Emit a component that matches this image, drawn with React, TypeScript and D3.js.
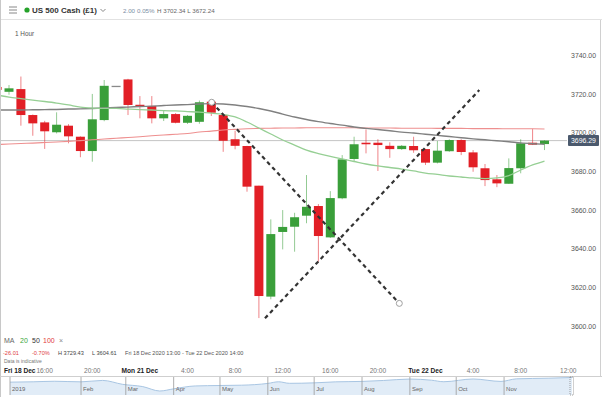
import React from "react";
import * as d3 from "d3";

const W = 602;
const H = 397;
const FONT = "'Liberation Sans', Arial, sans-serif";

// hourly candles, first one is index -1 (cut by the left edge)
const candleStart = -1;
const opens = [3724, 3721.5, 3722.9, 3709.5, 3705.7, 3700.6, 3704, 3698.3, 3690.9, 3706.9, 3724.6, 3727.9, 3714.8, 3714.2, 3707.8, 3710, 3705.5, 3706, 3716.4, 3709.5, 3697, 3693.5, 3673, 3615.7, 3649.1, 3651.8, 3657.5, 3662.5, 3646.3, 3666.5, 3686.8, 3695.2, 3695.2, 3693.6, 3691.9, 3693.5, 3691.9, 3684.9, 3690.8, 3696.6, 3690.2, 3682, 3676.3, 3674, 3682, 3695.2, 3694.5];
const highs = [3725.5, 3725, 3729.4, 3709.8, 3706.5, 3710.9, 3704.8, 3698.5, 3720.4, 3727.6, 3724.6, 3728.2, 3719.3, 3719.3, 3711.6, 3710.5, 3709.5, 3717, 3717, 3710, 3701.4, 3693.6, 3673, 3655.6, 3660.4, 3659, 3678.5, 3663.5, 3670.2, 3688.8, 3698.3, 3702.1, 3697, 3695.4, 3694, 3698.3, 3692, 3696.1, 3697, 3697, 3691.4, 3684.2, 3678.5, 3687.1, 3697, 3702.34, 3696.5];
const lows = [3721, 3720, 3704, 3698.8, 3692, 3700, 3694.9, 3687.7, 3685.4, 3706.3, 3724.6, 3709.5, 3707.8, 3705.2, 3706.4, 3705.2, 3704.9, 3705, 3709, 3690.5, 3691.8, 3669.9, 3604.61, 3614.3, 3640.1, 3638.9, 3653.6, 3633.7, 3646, 3666, 3685.4, 3689.7, 3680.6, 3687.4, 3691.5, 3690, 3683.7, 3684.5, 3690.5, 3688.8, 3680.2, 3672.8, 3672.24, 3674, 3679.4, 3694, 3691.4];
const closes = [3722.5, 3723.3, 3709.5, 3705.2, 3701.1, 3704.5, 3698.5, 3690.9, 3707.3, 3724.6, 3724.6, 3714.7, 3714, 3707.8, 3710, 3705.5, 3709.1, 3716.1, 3710.7, 3696.2, 3693.6, 3672.5, 3616, 3648, 3651.7, 3656.7, 3662.1, 3647, 3666.6, 3686.6, 3694.4, 3694.4, 3694, 3691.9, 3693.6, 3691.3, 3684.9, 3691.1, 3696.6, 3690.4, 3682.5, 3675.9, 3674.2, 3682.1, 3694.9, 3694.2, 3696.29];

// moving averages, same indices as the candles
const ma20 = [3719.8, 3718.8, 3718.0, 3717.2, 3716.5, 3715.7, 3714.7, 3713.6, 3713.1, 3712.9, 3712.9, 3712.6, 3712.3, 3712.1, 3711.8, 3711.6, 3711.3, 3711.0, 3710.5, 3709.8, 3708.5, 3705.9, 3702.8, 3699.7, 3696.6, 3694.0, 3691.4, 3689.6, 3688.1, 3686.8, 3685.5, 3684.2, 3683.2, 3682.4, 3681.6, 3680.6, 3679.5, 3678.8, 3678.0, 3677.5, 3677.0, 3676.7, 3677.0, 3678.2, 3681.1, 3683.7, 3685.7];
const ma50 = [3712.1, 3712.1, 3712.1, 3712.2, 3712.3, 3712.4, 3712.6, 3712.7, 3712.9, 3713.1, 3713.4, 3713.6, 3713.9, 3714.1, 3714.4, 3714.7, 3714.9, 3715.2, 3715.4, 3715.2, 3714.7, 3713.9, 3712.9, 3711.6, 3710.0, 3708.5, 3707.2, 3706.1, 3705.1, 3704.3, 3703.3, 3702.6, 3702.0, 3701.4, 3700.7, 3700.2, 3699.6, 3699.0, 3698.4, 3697.8, 3697.2, 3696.7, 3696.2, 3695.7, 3695.1, 3694.7, 3694.4];
const ma100 = [3694.3, 3694.5, 3694.8, 3695.0, 3695.3, 3695.6, 3695.9, 3696.3, 3696.7, 3697.1, 3697.5, 3697.9, 3698.3, 3698.8, 3699.2, 3699.6, 3700.0, 3700.7, 3701.2, 3701.8, 3702.1, 3702.4, 3702.6, 3702.7, 3702.8, 3702.8, 3702.9, 3702.9, 3702.9, 3702.9, 3702.9, 3702.8, 3702.8, 3702.8, 3702.7, 3702.7, 3702.7, 3702.6, 3702.6, 3702.6, 3702.5, 3702.5, 3702.5, 3702.4, 3702.4, 3702.4, 3702.3];

const lastPrice = 3696.29;
const priceTicks = [3600, 3620, 3640, 3660, 3680, 3700, 3720, 3740];

const timeIdx = [3, 7, 11, 15, 19, 23, 27, 31, 35, 39, 43, 47];
const timeText = ["16:00", "20:00", "Mon 21 Dec", "4:00", "8:00", "12:00", "16:00", "20:00", "Tue 22 Dec", "4:00", "8:00", "12:00"];

// hand drawn trend lines: [index, price]
const trendFrom = [[17.03, 3716.1], [21.51, 3604.5]];
const trendTo = [[32.8, 3612.2], [39.52, 3722.4]];
const trendHandles = [true, false];

// navigator overview
const navDates = ["2019-12-17", "2020-01-01", "2020-01-15", "2020-02-01", "2020-02-15", "2020-02-28", "2020-03-12", "2020-03-23", "2020-04-01", "2020-04-15", "2020-05-01", "2020-05-15", "2020-06-01", "2020-06-08", "2020-06-15", "2020-07-01", "2020-07-15", "2020-08-01", "2020-08-15", "2020-09-01", "2020-09-15", "2020-09-23", "2020-10-12", "2020-10-30", "2020-11-09", "2020-11-30", "2020-12-15"];
const navValues = [3192, 3230, 3289, 3225, 3380, 2954, 2711, 2237, 2470, 2783, 2830, 2863, 3055, 3232, 3066, 3115, 3226, 3271, 3372, 3526, 3401, 3237, 3534, 3270, 3550, 3621, 3694];
const navTickDates = ["2019-12-17", "2020-02-01", "2020-03-01", "2020-04-01", "2020-05-01", "2020-06-01", "2020-07-01", "2020-08-01", "2020-09-01", "2020-10-01", "2020-11-01"];
const navTickText = ["2019", "Feb", "Mar", "Apr", "May", "Jun", "Jul", "Aug", "Sep", "Oct", "Nov"];

const GREEN = "#3a9f3a";
const RED = "#e21f26";

export default function App() {
  const x = d3.scaleLinear().domain([0, 45]).range([9, 544.5]);
  const y = d3.scaleLinear().domain([3600, 3740]).range([327, 56]);
  const idx = opens.map((_, i) => i + candleStart);
  const bw = 9;

  const maLine = (vals: number[]) =>
    d3.line<number>().x((_, i) => x(idx[i])).y((d) => y(d)).curve(d3.curveMonotoneX)(vals) || "";

  const parse = d3.timeParse("%Y-%m-%d");
  const nx = d3.scaleTime().domain([parse("2019-12-17")!, parse("2020-12-15")!]).range([10, 572]);
  const ny = d3.scaleLinear().domain([2237, 3694]).range([391, 377.5]);
  const navArea = d3.area<number>()
    .x((_, i) => nx(parse(navDates[i])!))
    .y0(395)
    .y1((d) => ny(d))
    .curve(d3.curveMonotoneX);
  const navLine = d3.line<number>()
    .x((_, i) => nx(parse(navDates[i])!))
    .y((d) => ny(d))
    .curve(d3.curveMonotoneX);

  const py = y(lastPrice);

  return (
    <svg width={W} height={H} style={{ position: "absolute", left: 0, top: 0, background: "#fff" }} fontFamily={FONT}>
      <defs>
        <clipPath id="plot">
          <rect x={1} y={20} width={566} height={315} />
        </clipPath>
      </defs>
      <rect width={W} height={H} fill="#fff" />

      {/* header */}
      <g>
        {[7, 10, 13].map((yy) => (
          <line key={yy} x1={9} x2={17} y1={yy} y2={yy} stroke="#888" strokeWidth={1} />
        ))}
        <circle cx={27} cy={10} r={2.6} fill="#25a22a" />
        <text x={32} y={13} fontSize={8} fontWeight={600} fill="#333">US 500 Cash (£1)</text>
        <path d="M100.5,9 L103,11.5 L105.5,9" fill="none" stroke="#888" strokeWidth={1} />
        <text x={123} y={12.5} fontSize={6.2} fill="#7d8ea3">2.00</text>
        <text x={137} y={12.5} fontSize={6.2} fill="#7d8ea3">0.05%</text>
        <text x={157} y={12.5} fontSize={6.2} fill="#666">H 3702.34 L 3672.24</text>
        <line x1={0} x2={W} y1={19.5} y2={19.5} stroke="#e2e2e2" />
        <text x={15} y={36} fontSize={6.4} fill="#555">1 Hour</text>
      </g>

      {/* borders */}
      <line x1={0.5} x2={0.5} y1={0} y2={H} stroke="#c8c8c8" />
      <line x1={600.5} x2={600.5} y1={20} y2={376} stroke="#d0d0d0" />

      {/* price axis */}
      {priceTicks.map((t) => (
        <text key={t} x={596} y={y(t)} fontSize={6.9} fill="#555" textAnchor="end" dominantBaseline="middle">
          {t.toFixed(2)}
        </text>
      ))}

      <g clipPath="url(#plot)">
        {/* current price line */}
        <line x1={0} x2={568} y1={py} y2={py} stroke="#c4c4c4" strokeWidth={1} />

        {/* candles */}
        {idx.map((i, k) => {
          const o = opens[k], c = closes[k];
          const col = c > o ? GREEN : c < o ? RED : "#8a8a8a";
          const top = y(Math.max(o, c));
          const h = Math.max(1.3, y(Math.min(o, c)) - top);
          return (
            <g key={i}>
              <line x1={x(i)} x2={x(i)} y1={y(highs[k])} y2={y(lows[k])} stroke={col} strokeOpacity={0.55} strokeWidth={1} />
              <rect x={x(i) - bw / 2} y={top} width={bw} height={h} fill={col} />
            </g>
          );
        })}

        {/* moving averages */}
        <path d={maLine(ma100)} fill="none" stroke="#ee8f8f" strokeWidth={1.1} />
        <path d={maLine(ma50)} fill="none" stroke="#808080" strokeWidth={1.4} />
        <path d={maLine(ma20)} fill="none" stroke="#96cf94" strokeWidth={1.3} />

        {/* trend lines */}
        {trendFrom.map((f, k) => {
          const t = trendTo[k];
          return (
            <g key={k}>
              <line x1={x(f[0])} y1={y(f[1])} x2={x(t[0])} y2={y(t[1])} stroke="#333" strokeWidth={2.2} strokeDasharray="4,3.4" />
              {trendHandles[k] && (
                <>
                  <circle cx={x(f[0])} cy={y(f[1])} r={3} fill="#fff" stroke="#a0a0a0" strokeWidth={1} />
                  <circle cx={x(t[0])} cy={y(t[1])} r={3} fill="#fff" stroke="#a0a0a0" strokeWidth={1} />
                </>
              )}
            </g>
          );
        })}
      </g>

      {/* last price tag */}
      <rect x={568} y={py - 5.5} width={31} height={11} fill="#4b596d" rx={1} />
      <text x={583.5} y={py + 0.3} fontSize={6.9} fill="#fff" textAnchor="middle" dominantBaseline="middle">
        {lastPrice.toFixed(2)}
      </text>

      {/* legend / info rows */}
      <text x={4} y={342.5} fontSize={7} fill="#666">MA</text>
      <text x={20} y={342.5} fontSize={7} fill="#3aa53a">20</text>
      <text x={32} y={342.5} fontSize={7} fill="#333">50</text>
      <text x={43} y={342.5} fontSize={7} fill="#e23a3a">100</text>
      <text x={59} y={342.5} fontSize={7} fill="#888">×</text>

      <text x={3} y={354.5} fontSize={5.6} fill="#e04040">-26.01</text>
      <text x={32} y={354.5} fontSize={5.6} fill="#e04040">-0.70%</text>
      <text x={58} y={354.5} fontSize={5.6} fill="#444">H 3729.43</text>
      <text x={92} y={354.5} fontSize={5.6} fill="#444">L 3604.61</text>
      <text x={125} y={354.5} fontSize={5.6} fill="#555">Fri 18 Dec 2020 13:00 - Tue 22 Dec 2020 14:00</text>
      <text x={4} y={363} fontSize={5} fill="#777">Data is indicative</text>

      {/* time axis */}
      <text x={4} y={373} fontSize={6.6} fill="#222" fontWeight={600}>Fri 18 Dec</text>
      {timeIdx.map((t, k) => {
        const isDay = timeText[k].includes("Dec");
        return (
          <text key={k} x={x(t)} y={373} fontSize={6.6} textAnchor="middle" fill={isDay ? "#222" : "#777"} fontWeight={isDay ? 600 : 400}>
            {timeText[k]}
          </text>
        );
      })}

      {/* navigator */}
      <line x1={0} x2={W} y1={376.5} y2={376.5} stroke="#cfcfcf" />
      <path d={navArea(navValues) || ""} fill="#e1ecf7" />
      <path d={navLine(navValues) || ""} fill="none" stroke="#a9c6e3" strokeWidth={1} />
      {navTickDates.map((d, k) => {
        const xx = nx(parse(d)!);
        return (
          <g key={d}>
            <line x1={xx} x2={xx} y1={377} y2={395} stroke="#999" strokeWidth={0.8} />
            <text x={xx + 2} y={391} fontSize={6} fill="#666">{navTickText[k]}</text>
          </g>
        );
      })}
      <rect x={570} y={377} width={3.5} height={18} fill="none" stroke="#888" strokeWidth={0.8} strokeDasharray="1,1" />
    </svg>
  );
}
